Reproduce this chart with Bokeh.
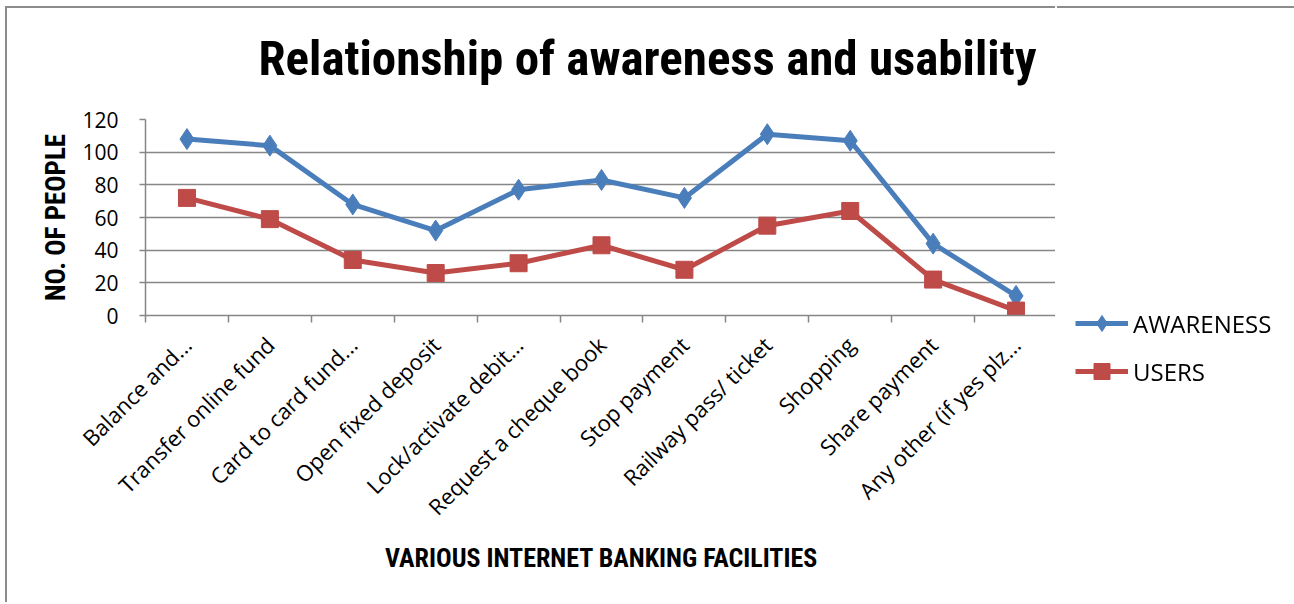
from math import pi
from bokeh.plotting import figure
from bokeh.models import (ColumnDataSource, FixedTicker, Range1d, Legend,
                          LegendItem, Title)
from bokeh.embed import file_html
from bokeh.resources import INLINE

# ---- data ----
categories = ["Balance and...", "Transfer online fund", "Card to card fund...",
              "Open fixed deposit", "Lock/activate debit...", "Request a cheque book",
              "Stop payment", "Railway pass/ ticket", "Shopping", "Share payment",
              "Any other (if yes plz..."]
awareness = [108, 104, 68, 52, 77, 83, 72, 111, 107, 44, 12]
users = [72, 59, 34, 26, 32, 43, 28, 55, 64, 22, 3]
y_ticks = [0, 20, 40, 60, 80, 100, 120]
series_names = ["AWARENESS", "USERS"]
title_text = "Relationship of awareness and usability"
x_title = "VARIOUS INTERNET BANKING FACILITIES"
y_title = "NO. OF PEOPLE"

# ---- layout constants (page pixels) ----
OX, OY = 7, 8                # where the bordered chart area starts
H = 604 - OY
L, R, T, B = 145 - OX, 1057 - OX, 119 - OY, 315 - OY
LEG_X = 1057                 # left edge of the legend strip on the page
LEG_W = 1294 - LEG_X
N = len(categories)
YMAX = 120
BLUE = "#4A7EBB"
RED = "#BE4B48"
GRID = "#868686"
BORDER = "2px solid #8c8c8c"
NARROW = "'Roboto Condensed', 'Liberation Sans Narrow', Roboto, sans-serif"
BODY = "'Open Sans', sans-serif"

xs = [i + 0.5 for i in range(N)]

p = figure(width=R, height=H, output_backend="svg", toolbar_location=None,
           x_range=Range1d(0, N), y_range=Range1d(0, YMAX),
           min_border_left=L, min_border_right=0,
           min_border_top=T, min_border_bottom=H - B,
           styles={"margin-left": "5px", "margin-top": "6px",
                   "border-top": BORDER, "border-left": BORDER})
p.outline_line_color = None
p.background_fill_color = "white"
p.border_fill_color = "white"

# title
p.title.text = title_text
p.title.align = "left"
p.title.offset = 113
p.title.text_font = NARROW
p.title.text_font_style = "bold"
p.title.text_font_size = "49px"
p.title.text_color = "black"
p.add_layout(Title(text=" ", text_font_size="14px"), "above")

# grid
p.xgrid.visible = False
p.ygrid.grid_line_color = GRID
p.ygrid.grid_line_width = 1.5
p.ygrid.ticker = FixedTicker(ticks=y_ticks)

# y axis
p.yaxis.ticker = FixedTicker(ticks=y_ticks)
p.yaxis.axis_line_color = GRID
p.yaxis.axis_line_width = 1.5
p.yaxis.major_tick_line_color = GRID
p.yaxis.major_tick_line_width = 1.5
p.yaxis.major_tick_out = 6
p.yaxis.major_tick_in = 0
p.yaxis.minor_tick_line_color = None
p.yaxis.major_label_text_font = BODY
p.yaxis.major_label_text_font_size = "21px"
p.yaxis.major_label_text_color = "black"
p.yaxis.major_label_standoff = 21
p.yaxis.axis_label = y_title
p.yaxis.axis_label_text_font = NARROW
p.yaxis.axis_label_text_font_style = "bold"
p.yaxis.axis_label_text_font_size = "27px"
p.yaxis.axis_label_text_color = "black"
p.yaxis.axis_label_standoff = 7

# x axis
p.xaxis.ticker = FixedTicker(ticks=xs, minor_ticks=list(range(N + 1)))
p.xaxis.major_label_overrides = {x: c for x, c in zip(xs, categories)}
p.xaxis.axis_line_color = GRID
p.xaxis.axis_line_width = 1.5
p.xaxis.major_tick_out = 0
p.xaxis.major_tick_in = 0
p.xaxis.minor_tick_out = 7
p.xaxis.minor_tick_in = 0
p.xaxis.minor_tick_line_color = GRID
p.xaxis.minor_tick_line_width = 1.5
p.xaxis.major_label_orientation = pi / 4
p.xaxis.major_label_text_font = BODY
p.xaxis.major_label_text_font_size = "22px"
p.xaxis.major_label_text_color = "black"
p.xaxis.major_label_standoff = 18
p.xaxis.axis_label = x_title
p.xaxis.axis_label_text_font = NARROW
p.xaxis.axis_label_text_font_style = "bold"
p.xaxis.axis_label_text_font_size = "26px"
p.xaxis.axis_label_text_color = "black"
p.xaxis.axis_label_standoff = 9

src = ColumnDataSource(dict(x=xs, awareness=awareness, users=users))


def draw(fig):
    l1 = fig.line("x", "awareness", source=src, line_color=BLUE, line_width=5)
    s1 = fig.scatter("x", "awareness", source=src, marker="diamond", size=21,
                     fill_color=BLUE, line_color=BLUE)
    l2 = fig.line("x", "users", source=src, line_color=RED, line_width=5)
    s2 = fig.scatter("x", "users", source=src, marker="square", size=17,
                     fill_color=RED, line_color=RED)
    return [l1, s1], [l2, s2]


draw(p)

# legend strip: a frameless figure pinned to the right of the plot area; its
# own copies of the series fall outside its ranges and only feed the legend
lf = figure(width=LEG_W, height=H, output_backend="svg", toolbar_location=None,
            x_range=Range1d(-100, -99), y_range=Range1d(-100, -99),
            x_axis_location=None, y_axis_location=None, min_border=0,
            styles={"position": "fixed", "left": f"{LEG_X}px", "top": "6px",
                    "border-top": BORDER})
lf.grid.visible = False
lf.outline_line_color = None
lf.background_fill_color = "white"
r_aw, r_us = draw(lf)
legend = Legend(items=[LegendItem(label=series_names[0], renderers=r_aw),
                       LegendItem(label=series_names[1], renderers=r_us)],
                location=(1075 - LEG_X, 604 - 391), glyph_width=53,
                glyph_height=40, label_height=40, spacing=8, padding=0,
                margin=0, border_line_color=None, background_fill_alpha=0,
                label_text_font=BODY, label_text_font_size="24px",
                label_text_color="black", label_standoff=5)
lf.add_layout(legend)

open("out.html", "w").write(file_html([p, lf], INLINE))
